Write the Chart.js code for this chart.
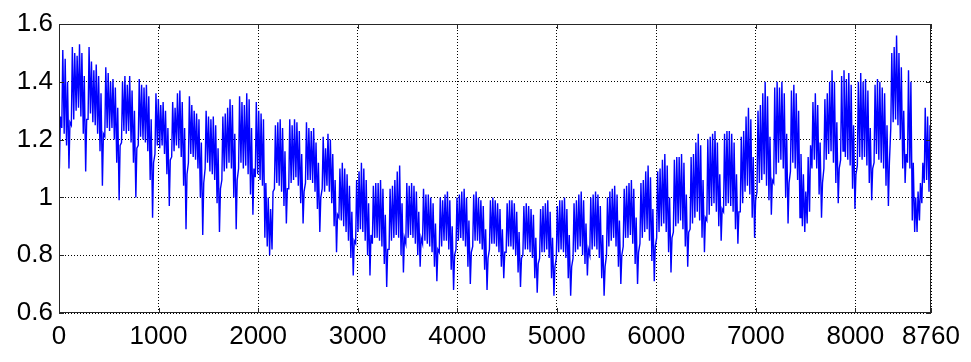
<!DOCTYPE html>
<html>
<head>
<meta charset="utf-8">
<script src="https://cdn.jsdelivr.net/npm/chart.js@4.4.1/dist/chart.umd.min.js"></script>
<style>
  html, body { margin: 0; padding: 0; background: #fff; }
  canvas { display: block; }
</style>
</head>
<body>
<canvas id="load" width="971" height="362"></canvas>
<script>
// hourly load over one year, read off the picture as a daily high / daily low
// one row per week (Wed .. Tue), 365 days in total
const dayHigh = [
  1.28,1.51,1.48,1.40,1.26,1.52,1.50,
  1.49,1.53,1.50,1.42,1.27,1.52,1.47,
  1.44,1.46,1.42,1.36,1.22,1.45,1.43,
  1.40,1.41,1.38,1.31,1.18,1.40,1.42,
  1.39,1.42,1.37,1.30,1.17,1.41,1.39,
  1.38,1.39,1.35,1.27,1.12,1.36,1.34,
  1.32,1.33,1.30,1.24,1.13,1.33,1.31,
  1.36,1.37,1.33,1.24,1.08,1.35,1.32,
  1.30,1.29,1.27,1.19,1.05,1.30,1.28,
  1.27,1.28,1.25,1.17,1.03,1.28,1.29,
  1.31,1.34,1.32,1.22,1.06,1.35,1.33,
  1.32,1.36,1.34,1.24,1.10,1.33,1.30,
  1.29,1.27,1.05,1.00,0.96,1.02,1.25,
  1.26,1.27,1.24,1.16,1.03,1.27,1.25,
  1.27,1.26,1.23,1.15,1.02,1.26,1.24,
  1.23,1.24,1.19,1.12,1.00,1.21,1.17,
  1.22,1.20,1.15,1.06,0.94,1.10,1.12,
  1.10,1.08,1.04,0.95,0.85,1.06,1.09,
  1.12,1.10,1.06,0.98,0.87,1.04,1.05,
  1.05,1.06,1.03,0.94,0.82,1.03,1.04,
  1.06,1.09,1.11,0.98,0.86,1.05,1.04,
  1.05,1.04,1.02,0.95,0.86,1.03,1.01,
  1.01,1.00,0.98,0.91,0.82,1.00,0.99,
  1.01,1.02,0.99,0.90,0.80,1.00,1.01,
  1.02,1.03,1.00,0.92,0.81,1.01,1.02,
  1.00,0.99,0.97,0.89,0.79,0.99,1.00,
  0.99,0.98,0.96,0.89,0.81,0.98,0.99,
  0.99,0.98,0.95,0.88,0.79,0.97,0.98,
  0.97,0.96,0.94,0.86,0.77,0.96,0.97,
  0.98,0.99,0.95,0.86,0.76,0.97,0.99,
  0.99,1.00,0.96,0.87,0.76,0.98,0.99,
  1.01,1.02,0.99,0.91,0.82,1.00,1.01,
  1.02,1.01,0.97,0.87,0.76,1.00,1.02,
  1.03,1.04,1.01,0.92,0.80,1.03,1.04,
  1.05,1.06,1.03,0.93,0.81,1.05,1.06,
  1.09,1.11,1.07,0.96,0.83,1.09,1.10,
  1.13,1.15,1.11,1.00,0.86,1.13,1.14,
  1.14,1.15,1.12,1.01,0.88,1.14,1.15,
  1.19,1.22,1.18,1.06,0.93,1.20,1.21,
  1.22,1.23,1.19,1.08,0.96,1.22,1.23,
  1.23,1.22,1.19,1.08,0.95,1.21,1.23,
  1.28,1.31,1.27,1.14,0.99,1.30,1.32,
  1.36,1.40,1.35,1.21,1.06,1.38,1.40,
  1.38,1.40,1.36,1.22,1.05,1.37,1.39,
  1.36,1.30,1.15,1.08,1.02,1.14,1.18,
  1.33,1.36,1.32,1.19,1.05,1.34,1.36,
  1.40,1.44,1.40,1.26,1.10,1.42,1.44,
  1.41,1.43,1.39,1.25,1.08,1.40,1.43,
  1.40,1.41,1.37,1.24,1.10,1.39,1.41,
  1.40,1.38,1.36,1.25,1.12,1.50,1.52,
  1.56,1.50,1.45,1.30,1.15,1.44,1.40,
  1.12,1.00,1.02,1.05,1.12,1.31,1.28,
  1.25
];
const dayLow = [
  1.10,1.24,1.22,1.18,1.10,1.25,1.27,
  1.30,1.31,1.28,1.22,1.09,1.27,1.29,
  1.26,1.25,1.22,1.16,1.04,1.21,1.24,
  1.23,1.24,1.20,1.12,0.99,1.19,1.23,
  1.22,1.23,1.19,1.12,1.00,1.18,1.21,
  1.20,1.19,1.16,1.06,0.93,1.15,1.18,
  1.17,1.18,1.15,1.08,0.97,1.14,1.16,
  1.18,1.17,1.14,1.04,0.89,1.12,1.15,
  1.14,1.13,1.10,1.00,0.87,1.10,1.12,
  1.09,1.08,1.06,0.98,0.88,1.06,1.09,
  1.10,1.12,1.10,1.00,0.89,1.10,1.12,
  1.10,1.11,1.08,1.01,0.94,1.07,1.08,
  1.06,1.04,0.86,0.83,0.80,0.82,1.03,
  1.05,1.04,1.02,0.97,0.91,1.03,1.05,
  1.06,1.07,1.04,0.98,0.91,1.05,1.06,
  1.06,1.05,1.02,0.96,0.88,1.03,1.02,
  1.04,1.02,0.98,0.90,0.81,0.93,0.92,
  0.90,0.88,0.85,0.79,0.73,0.84,0.88,
  0.89,0.88,0.85,0.80,0.73,0.84,0.86,
  0.86,0.85,0.83,0.77,0.69,0.82,0.85,
  0.86,0.87,0.86,0.80,0.74,0.84,0.86,
  0.87,0.86,0.84,0.80,0.76,0.84,0.85,
  0.84,0.83,0.81,0.76,0.71,0.81,0.83,
  0.85,0.85,0.82,0.75,0.68,0.82,0.85,
  0.86,0.85,0.83,0.76,0.70,0.83,0.85,
  0.85,0.84,0.82,0.75,0.68,0.82,0.84,
  0.84,0.83,0.81,0.76,0.72,0.81,0.83,
  0.83,0.82,0.80,0.74,0.69,0.80,0.82,
  0.82,0.81,0.79,0.72,0.67,0.79,0.81,
  0.81,0.82,0.79,0.72,0.66,0.79,0.81,
  0.82,0.81,0.79,0.72,0.66,0.79,0.81,
  0.82,0.83,0.80,0.77,0.73,0.80,0.82,
  0.83,0.82,0.79,0.72,0.66,0.80,0.83,
  0.85,0.86,0.83,0.76,0.70,0.83,0.86,
  0.86,0.87,0.84,0.77,0.70,0.84,0.86,
  0.88,0.89,0.85,0.78,0.71,0.86,0.88,
  0.90,0.91,0.88,0.81,0.74,0.88,0.90,
  0.91,0.92,0.89,0.83,0.76,0.89,0.91,
  0.93,0.95,0.92,0.86,0.81,0.92,0.94,
  0.97,0.98,0.95,0.90,0.85,0.95,0.97,
  0.98,0.97,0.95,0.89,0.84,0.95,0.98,
  1.02,1.04,1.01,0.93,0.86,1.02,1.05,
  1.06,1.08,1.04,0.99,0.94,1.05,1.08,
  1.12,1.13,1.10,1.00,0.91,1.09,1.12,
  1.10,1.06,0.93,0.90,0.88,0.91,0.95,
  1.10,1.13,1.10,1.01,0.93,1.10,1.13,
  1.15,1.16,1.12,1.05,0.98,1.13,1.16,
  1.14,1.13,1.11,1.03,0.96,1.11,1.14,
  1.13,1.14,1.11,1.05,0.99,1.12,1.15,
  1.13,1.12,1.10,1.04,0.97,1.24,1.26,
  1.27,1.25,1.20,1.10,1.05,1.12,1.10,
  0.92,0.88,0.88,0.92,0.98,1.05,1.06,
  1.02
];
// hour of the day at which the low and the high are taken
const lowHour = 4;
const highHour = 14;

const xTicks = [0, 1000, 2000, 3000, 4000, 5000, 6000, 7000, 8000, 8760];
const yTicks = [0.6, 0.8, 1, 1.2, 1.4, 1.6];

const points = [];
for (let d = 0; d < dayHigh.length; d++) {
  points.push({ x: d * 24 + lowHour, y: dayLow[d] });
  points.push({ x: d * 24 + highHour, y: dayHigh[d] });
}

const tickFont = { family: "'Liberation Sans', Arial, sans-serif", size: 26 };

// matlab style box with short inner tick marks
const boxPlugin = {
  id: 'box',
  afterDraw(chart) {
    const { ctx, chartArea: a, scales } = chart;
    ctx.save();
    ctx.setLineDash([]);
    ctx.strokeStyle = '#262626';
    ctx.lineWidth = 1;
    ctx.strokeRect(a.left + 0.5, a.top + 0.5, a.right - a.left - 1, a.bottom - a.top - 1);
    ctx.beginPath();
    xTicks.forEach(v => {
      const px = Math.round(scales.x.getPixelForValue(v)) + 0.5;
      ctx.moveTo(px, a.bottom); ctx.lineTo(px, a.bottom - 5);
      ctx.moveTo(px, a.top); ctx.lineTo(px, a.top + 5);
    });
    yTicks.forEach(v => {
      const py = Math.round(scales.y.getPixelForValue(v)) + 0.5;
      ctx.moveTo(a.left, py); ctx.lineTo(a.left + 5, py);
      ctx.moveTo(a.right, py); ctx.lineTo(a.right - 5, py);
    });
    ctx.stroke();
    ctx.restore();
  }
};

new Chart(document.getElementById('load'), {
  type: 'line',
  data: {
    datasets: [{
      data: points,
      borderColor: '#0000ff',
      borderWidth: 1.4,
      pointRadius: 0,
      tension: 0,
      fill: false
    }]
  },
  options: {
    responsive: false,
    animation: false,
    devicePixelRatio: 1,
    layout: { padding: { top: 24, right: 40, left: 0, bottom: 0 } },
    plugins: { legend: { display: false }, tooltip: { enabled: false } },
    scales: {
      x: {
        type: 'linear',
        min: 0,
        max: 8760,
        afterBuildTicks: s => { s.ticks = xTicks.map(v => ({ value: v })); },
        afterFit: s => { s.height = 49; },
        ticks: { font: tickFont, color: '#000', maxRotation: 0, autoSkip: false, padding: 8, callback: v => String(v) },
        grid: { color: '#000', lineWidth: 1, drawTicks: false },
        border: { display: false, dash: [1, 2] }
      },
      y: {
        min: 0.6,
        max: 1.6,
        afterBuildTicks: s => { s.ticks = yTicks.map(v => ({ value: v })); },
        afterFit: s => { s.width = 59; },
        ticks: { font: tickFont, color: '#000', padding: 6, callback: v => String(v) },
        grid: { color: '#000', lineWidth: 1, drawTicks: false },
        border: { display: false, dash: [1, 2] }
      }
    }
  },
  plugins: [boxPlugin]
});
</script>
</body>
</html>
